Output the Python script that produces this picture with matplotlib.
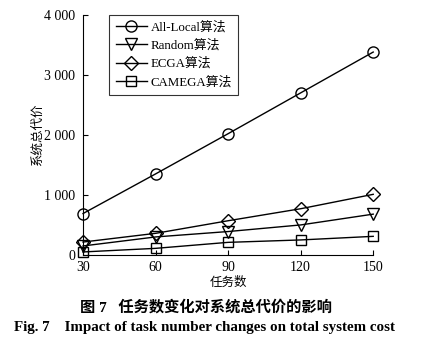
import numpy as np
import matplotlib.pyplot as plt
from matplotlib.ticker import FuncFormatter

plt.rcParams['font.family'] = ['Liberation Serif', 'Noto Sans CJK SC']
plt.rcParams['mathtext.fontset'] = 'stix'

tasks = [30, 60, 90, 120, 150]
all_local = [690, 1350, 2020, 2700, 3380]
random_alg = [150, 300, 390, 500, 680]
ecga = [215, 360, 570, 770, 1010]
camega = [50, 110, 210, 250, 310]

fig = plt.figure(figsize=(4.28, 3.45), dpi=100)
ax = fig.add_axes([0.194, 0.261, 0.678, 0.696])

kw = dict(color='black', linewidth=1.0, markersize=8, markerfacecolor='none',
          markeredgecolor='black', markeredgewidth=1.0, clip_on=False)
ax.plot(tasks, all_local, marker='o', label='All-Local算法', **kw)
ax.plot(tasks, random_alg, marker='v', label='Random算法', **kw)
ax.plot(tasks, ecga, marker='D', label='ECGA算法', **dict(kw, markersize=7))
ax.plot(tasks, camega, marker='s', label='CAMEGA算法', **dict(kw, markersize=7))

ax.set_xlim(30, 150)
ax.set_ylim(0, 4000)
ax.set_xticks(tasks)
ax.set_yticks([0, 1000, 2000, 3000, 4000])
ax.yaxis.set_major_formatter(FuncFormatter(lambda v, p: f'{int(v):,}'.replace(',', ' ')))
ax.spines['top'].set_visible(False)
ax.spines['right'].set_visible(False)
ax.tick_params(direction='in', length=3.5, width=0.8, labelsize=10)
ax.tick_params(axis='y', pad=5.5)
ax.tick_params(axis='x', pad=4.5)

ax.set_xlabel('任务数', fontsize=9, labelpad=1.5)
ax.set_ylabel('系统总代价', fontsize=9)
ax.yaxis.set_label_coords(-0.135, 0.5)

leg = ax.legend(loc='upper left', bbox_to_anchor=(0.09, 1.0), fontsize=9.3,
                frameon=True, fancybox=False, edgecolor='black',
                handlelength=2.4, handletextpad=0.3, labelspacing=0.45,
                borderpad=0.5, borderaxespad=0)
leg.get_frame().set_linewidth(0.8)

fig.text(0.48, 0.11, '图 7   任务数变化对系统总代价的影响', ha='center', va='center',
         fontsize=11, fontweight='bold')
fig.text(0.478, 0.05, 'Fig. 7    Impact of task number changes on total system cost',
         ha='center', va='center', fontsize=10.8, fontweight='bold')

fig.savefig('out.png', dpi=100)
